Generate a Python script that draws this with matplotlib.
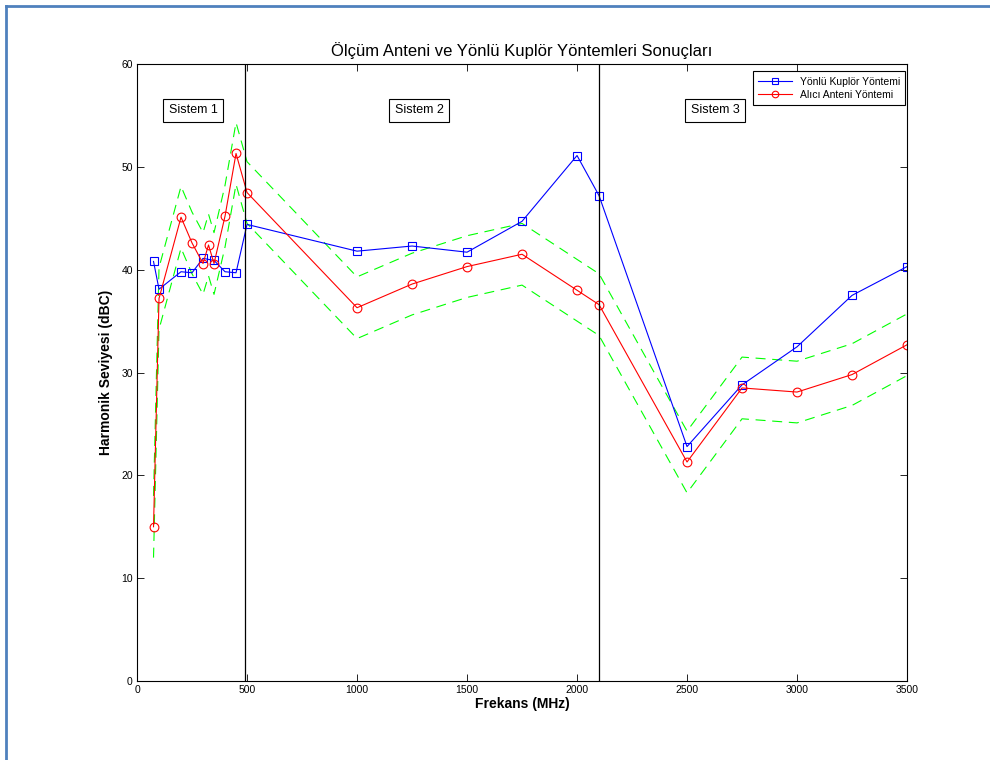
import numpy as np
import matplotlib
matplotlib.use("Agg")
import matplotlib.pyplot as plt
from matplotlib.lines import Line2D

plt.rcParams['font.family'] = ['Liberation Sans', 'DejaVu Sans']

# Yönlü kuplör yöntemi ölçümleri
f_kuplor = [75, 100, 200, 250, 300, 350, 400, 450, 500,
            1000, 1250, 1500, 1750, 2000, 2100,
            2500, 2750, 3000, 3250, 3500]
h_kuplor = [40.8, 38.1, 39.8, 39.7, 41.1, 40.9, 39.8, 39.7, 44.4,
            41.8, 42.3, 41.7, 44.7, 51.1, 47.2,
            22.8, 28.8, 32.5, 37.5, 40.3]

# Alıcı anten yöntemi ölçümleri
f_anten = [75, 100, 200, 250, 300, 325, 350, 400, 450, 500,
           1000, 1250, 1500, 1750, 2000, 2100,
           2500, 2750, 3000, 3250, 3500]
h_anten = [15.0, 37.2, 45.1, 42.6, 40.6, 42.4, 40.6, 45.2, 51.3, 47.5,
           36.3, 38.6, 40.3, 41.5, 38.0, 36.6,
           21.3, 28.5, 28.1, 29.8, 32.7]

tolerans = 3.0  # dB, anten yöntemi belirsizlik bandı
sinirlar = [490, 2100]
sistemler = ["Sistem 1", "Sistem 2", "Sistem 3"]
sistem_x = [255, 1282, 2627]

fig = plt.figure(figsize=(9.9, 7.6), dpi=100)
ax = fig.add_axes([0.1384, 0.1039, 0.7778, 0.8119])

h_anten_arr = np.array(h_anten)
ax.plot(f_anten, h_anten_arr + tolerans, color="#00ff00", lw=0.8,
        dashes=(9, 6))
ax.plot(f_anten, h_anten_arr - tolerans, color="#00ff00", lw=0.8,
        dashes=(9, 6))

ax.plot(f_kuplor, h_kuplor, color="blue", lw=0.8, marker="s", ms=6.3,
        mfc="none", mec="blue", mew=0.8, label="Yönlü Kuplör Yöntemi")
ax.plot(f_anten, h_anten, color="red", lw=0.8, marker="o", ms=6.3,
        mfc="none", mec="red", mew=0.8, label="Alıcı Anteni Yöntemi")

for s in sinirlar:
    ax.axvline(s, color="black", lw=0.9)

for ad, sx in zip(sistemler, sistem_x):
    ax.text(sx, 55.5, ad, ha="center", va="center", fontsize=9,
            bbox=dict(boxstyle="square,pad=0.45", fc="white", ec="black", lw=0.8))

ax.set_xlim(0, 3500)
ax.set_ylim(0, 60)
ax.set_xticks(np.arange(0, 3501, 500))
ax.set_yticks(np.arange(0, 61, 10))
ax.tick_params(direction="in", top=True, right=True, labelsize=7.5,
               length=5, width=0.6, pad=3)
for sp in ax.spines.values():
    sp.set_linewidth(0.8)

ax.set_title("Ölçüm Anteni ve Yönlü Kuplör Yöntemleri Sonuçları",
             fontsize=12, pad=6)
ax.set_xlabel("Frekans (MHz)", fontsize=10, fontweight="bold", labelpad=1)
ax.set_ylabel("Harmonik Seviyesi (dBC)", fontsize=10, fontweight="bold",
              labelpad=6)

leg = ax.legend(loc="upper right", bbox_to_anchor=(0.998, 0.988),
                fontsize=7.5, fancybox=False, framealpha=1,
                edgecolor="black", borderaxespad=0, markerscale=0.75,
                handlelength=3.2, borderpad=0.5, labelspacing=0.3)
leg.get_frame().set_linewidth(0.8)

# ekran görüntüsündeki mavi çerçeve
fig.add_artist(Line2D([0.0058, 0.0058], [0, 0.992], color="#4f81bd",
                      lw=2, transform=fig.transFigure))
fig.add_artist(Line2D([0.0058, 1.0], [0.992, 0.992], color="#4f81bd",
                      lw=2, transform=fig.transFigure))

fig.savefig("out.png", dpi=100)
